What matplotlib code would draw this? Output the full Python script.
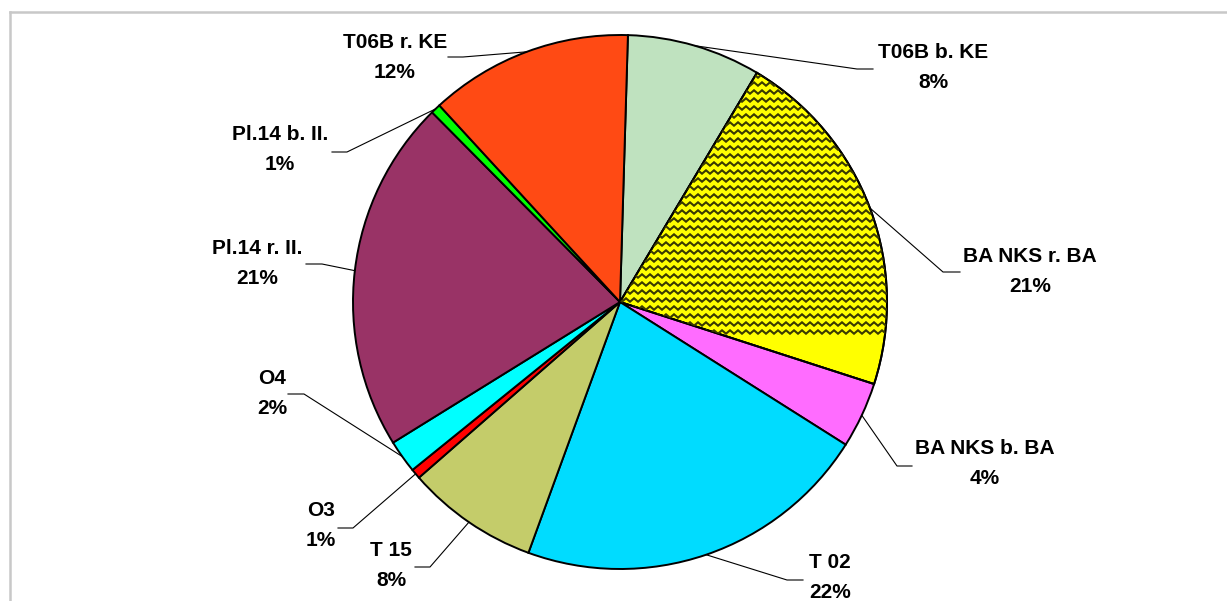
import matplotlib
matplotlib.use("Agg")
import matplotlib.pyplot as plt
import numpy as np

# ---- data ----
categories = ["T06B b. KE", "BA NKS r. BA", "BA NKS b. BA", "T 02", "T 15",
              "O3", "O4", "Pl.14 r. II.", "Pl.14 b. II.", "T06B r. KE"]
values = [8.1, 21.4, 4.0, 21.6, 8.0, 0.6, 2.0, 21.4, 0.6, 12.3]
colors = ["#bfe2bf", "#ffff00", "#ff6cff", "#00dcff", "#c4cc6a",
          "#ff0000", "#00ffff", "#993366", "#00ff00", "#ff4a14"]

# ---- layout (image pixel coordinates, y down) ----
W, H = 1227, 601
CX, CY, R = 620, 302, 267
label_xy = [(933, 68), (1030, 272), (985, 463), (830, 578), (391, 566),
            (321, 526), (272, 393), (257, 263), (280, 150), (395, 57)]
elbow_xy = [(857, 69), (943, 272), (897, 466), (787, 580), (430, 567),
            (353, 528), (304, 394), (322, 264), (347, 152), (463, 57)]
end_xy = [(873, 69), (960, 272), (912, 466), (803, 580), (415, 567),
          (338, 528), (288, 394), (306, 264), (332, 152), (448, 57)]

plt.rcParams['font.family'] = ['Liberation Sans', 'DejaVu Sans']

fig = plt.figure(figsize=(W / 100, H / 100), dpi=100)
ax = fig.add_axes([0, 0, 1, 1])


def fy(y):
    return H - y


wedges, _ = ax.pie(values, colors=colors, startangle=88.3, counterclock=False,
                   center=(CX, fy(CY)), radius=R, frame=True,
                   wedgeprops=dict(edgecolor="black", linewidth=1.4))
ax.set_xlim(0, W)
ax.set_ylim(0, H)
ax.set_aspect('auto')
ax.axis('off')

# zigzag pattern on the yellow wedge
zz = wedges[1]
period, amp, gap = 8.0, 1.7, 8.0
xs = np.arange(CX - 10, CX + R + 20, period / 2)
for k, yb in enumerate(np.arange(fy(CY) - 30, fy(CY) + R + 10, gap)):
    ys = yb + amp * np.where(np.arange(len(xs)) % 2 == 0, 1, -1)
    ln, = ax.plot(xs, ys, color="#3a3a00", lw=1.5, solid_joinstyle='miter')
    ln.set_clip_path(zz)
# redraw the outline of the patterned wedge on top
ax.add_patch(matplotlib.patches.Wedge(zz.center, zz.r, zz.theta1, zz.theta2,
                                      facecolor="none", edgecolor="black", lw=1.4))

# labels and leader lines
total = sum(values)
for w, name, v, (lx, ly), (ex, ey), (hx, hy) in zip(wedges, categories, values,
                                                      label_xy, elbow_xy, end_xy):
    mid = np.deg2rad((w.theta1 + w.theta2) / 2)
    px = CX + R * np.cos(mid)
    py = fy(CY) + R * np.sin(mid)
    ax.plot([px, ex, hx], [py, fy(ey), fy(hy)], color="black", lw=0.8)
    pct = f"{round(100 * v / total):d}%"
    ax.text(lx, fy(ly - 15), name, ha="center", va="center",
            fontsize=15, fontweight="bold")
    ax.text(lx, fy(ly + 15), pct, ha="center", va="center",
            fontsize=15, fontweight="bold")

# chart-area frame (top and left edges visible)
ax.plot([10, W], [fy(12), fy(12)], color="#c8c8c8", lw=1.8, clip_on=False)
ax.plot([10, 10], [fy(12), 0], color="#c8c8c8", lw=1.8, clip_on=False)

fig.savefig("out.png", dpi=100)
